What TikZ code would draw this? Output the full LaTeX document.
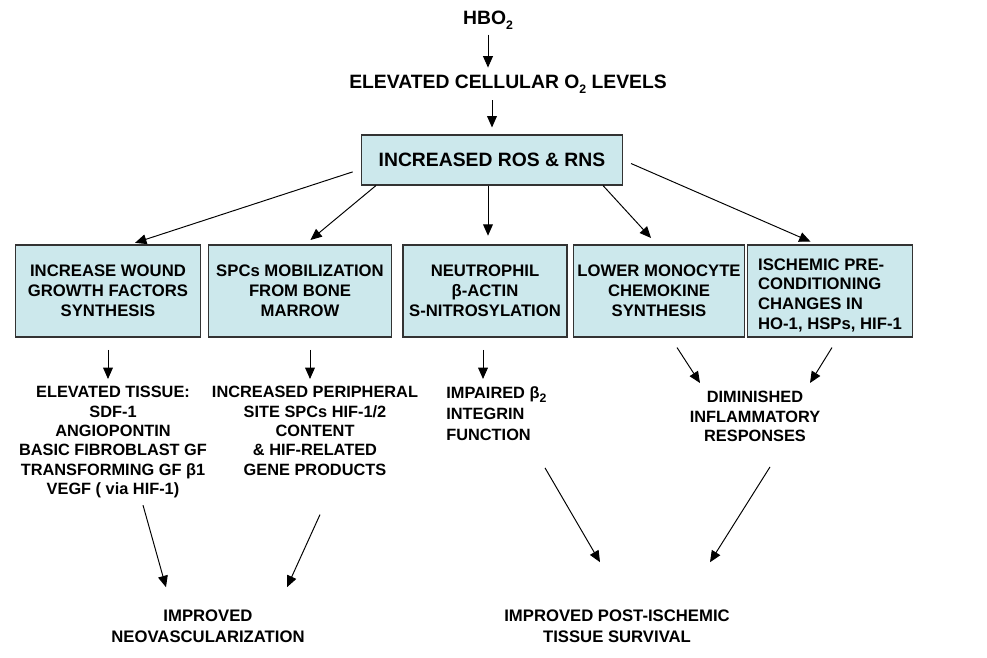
\documentclass[tikz,border=0pt]{standalone}
\usepackage{fontspec}
\setmainfont{Liberation Sans}
\usetikzlibrary{arrows.meta,calc}

\definecolor{boxfill}{RGB}{204,232,236}
\newcommand\lowsub[1]{\raisebox{-0.45ex}{\fontsize{7}{7}\selectfont #1}}

\tikzset{
  big/.style={font=\bfseries\fontsize{11}{13}\selectfont, align=center, inner sep=0pt},
  lbl/.style={font=\bfseries\fontsize{9.3}{11}\selectfont, align=center, inner sep=0pt},
  cbox/.style={font=\bfseries\fontsize{9.5}{11.3}\selectfont, align=center, inner sep=2pt,
    draw=black!80, fill=boxfill, line width=0.6pt, minimum height=1.84cm},
  arr/.style={-{Triangle[length=6.5pt,width=5.6pt]}, line width=0.55pt},
}

\begin{document}
\begin{tikzpicture}[x=0.02cm,y=-0.02cm]
\useasboundingbox (0,0) rectangle (987,657);

% top of the chain
\node[big] (hbo) at (488,20) {HBO\lowsub{2}};
\node[big] (o2) at (508,84) {ELEVATED CELLULAR O\lowsub{2} LEVELS};
\node[cbox, font=\bfseries\fontsize{11}{13}\selectfont, minimum width=5.22cm, minimum height=1cm] (ros) at (492,160) {INCREASED ROS \& RNS};

\draw[arr, shorten <=3pt, shorten >=4pt] (hbo.south) -- (hbo.south |- o2.north);
\draw[arr, shorten <=4pt, shorten >=4pt] (o2.south -| ros.north) -- (ros.north);

% the five boxes
\node[cbox, minimum width=3.7cm] (b1) at (108,291) {INCREASE WOUND\\GROWTH FACTORS\\SYNTHESIS};
\node[cbox, minimum width=3.66cm] (b2) at (300,291) {SPCs MOBILIZATION\\FROM BONE\\MARROW};
\node[cbox, minimum width=3.28cm] (b3) at (485,291) {NEUTROPHIL\\β-ACTIN\\S-NITROSYLATION};
\node[cbox, minimum width=3.32cm] (b4) at (659,291) {LOWER MONOCYTE\\CHEMOKINE\\SYNTHESIS};
\node[cbox, minimum width=3.3cm, align=left] (b5) at (830,291) {\rule{0pt}{11.5pt}ISCHEMIC PRE-\\CONDITIONING\\ CHANGES IN\\HO-1, HSPs, HIF-1};

\draw[arr, shorten <=5pt, shorten >=3pt] (ros.184) -- ($(b1.north)+(22,0)$);
\draw[arr, shorten >=4pt] ($(ros.south west)+(15,0)$) -- ($(b2.north)+(5,0)$);
\draw[arr, shorten >=5pt] ($(ros.south)+(-4,0)$) -- ($(b3.north)+(3,0)$);
\draw[arr, shorten >=5pt] ($(ros.south east)+(-20,0)$) -- ($(b4.north)+(-2,0)$);
\draw[arr, shorten <=5pt, shorten >=4pt] (ros.east) -- ($(b5.north)+(-13,0)$);

% what follows from each box
\node[lbl, anchor=north] (tissue) at (113,386) {ELEVATED TISSUE:\\SDF-1\\ANGIOPONTIN\\BASIC FIBROBLAST GF\\TRANSFORMING GF β1\\VEGF ( via HIF-1)};
\node[lbl, anchor=north] (periph) at (315,386) {INCREASED PERIPHERAL\\SITE SPCs HIF-1/2\\CONTENT\\\& HIF-RELATED\\GENE PRODUCTS};
\node[lbl, anchor=north west, align=left, font=\bfseries\fontsize{9.3}{12}\selectfont] (impair) at (446,386) {IMPAIRED β\lowsub{2}\\INTEGRIN\\FUNCTION};
\node[lbl, anchor=north] (dimin) at (755,391) {DIMINISHED\\INFLAMMATORY\\RESPONSES};

\draw[arr, shorten <=7pt, shorten >=4pt] (b1.south) -- (b1.south |- tissue.north);
\draw[arr, shorten <=7pt, shorten >=4pt] ($(b2.south)+(10,0)$) -- ($(b2.south |- periph.north)+(10,0)$);
\draw[arr, shorten <=7pt, shorten >=4pt] ($(b3.south)+(-2,0)$) -- ($(b3.south |- impair.north)+(-2,0)$);
\draw[arr] ($(b4.south)+(18,10)$) -- ($(dimin.north)+(-55,-8)$);
\draw[arr] ($(b5.south)+(2,10)$) -- ($(dimin.north)+(55,-8)$);

% outcomes
\node[lbl, font=\bfseries\fontsize{9.5}{12}\selectfont] (neo) at (208,626) {IMPROVED\\NEOVASCULARIZATION};
\node[lbl, font=\bfseries\fontsize{9.5}{12}\selectfont] (surv) at (617,626) {IMPROVED POST-ISCHEMIC\\TISSUE SURVIVAL};

\draw[arr] ($(tissue.south)+(30,7)$) -- ($(neo.north)+(-42,-22)$);
\draw[arr] ($(periph.south)+(5,39)$) -- ($(neo.north)+(79,-22)$);
\draw[arr] ($(impair.south west)+(99,27)$) -- ($(surv.north)+(-17,-47)$);
\draw[arr] ($(dimin.south)+(15,25)$) -- ($(surv.north)+(93,-47)$);
\end{tikzpicture}
\end{document}
